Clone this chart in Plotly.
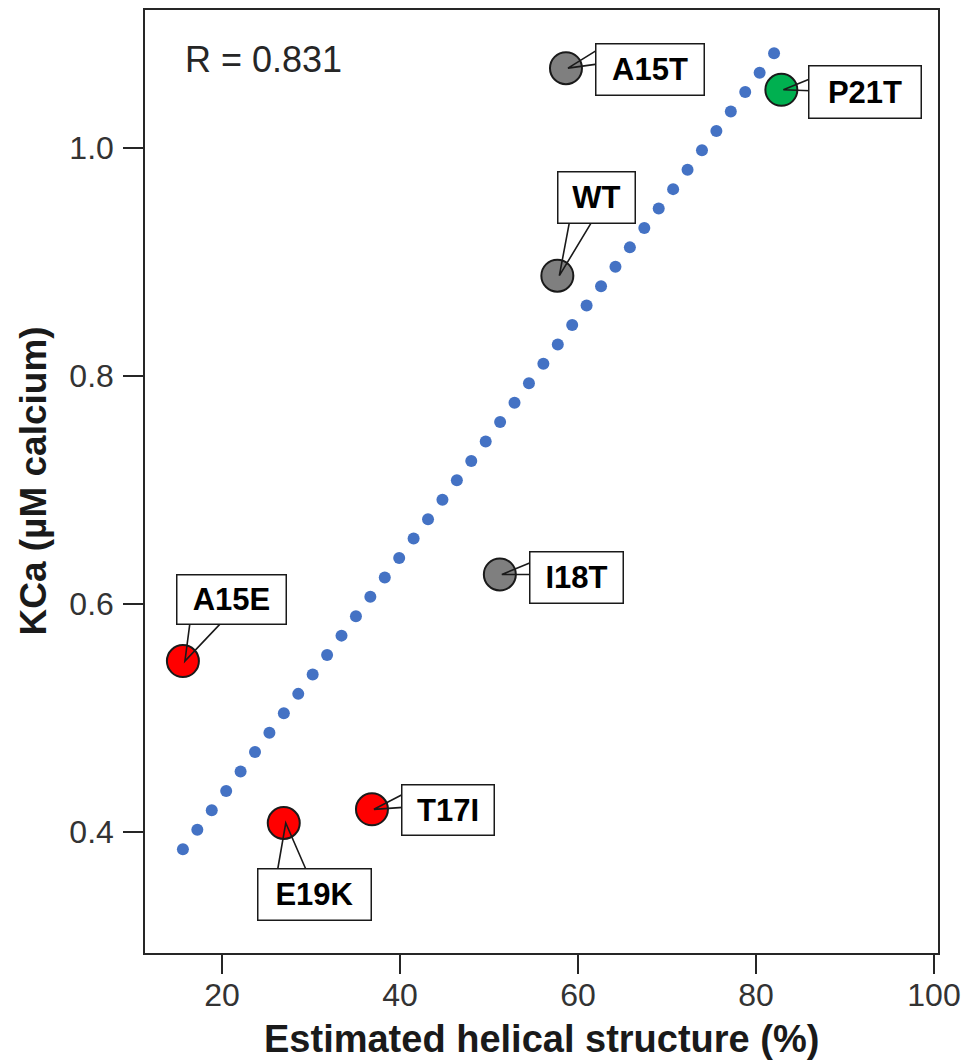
import numpy as np
import plotly.graph_objects as go

# ---- data ----
labels = ["A15T", "P21T", "WT", "I18T", "A15E", "T17I", "E19K"]
helix = [58.65, 82.85, 57.68, 51.22, 15.61, 36.85, 26.94]
kca = [1.070, 1.051, 0.888, 0.626, 0.550, 0.420, 0.408]
groups = ["neutral", "up", "neutral", "neutral", "down", "down", "down"]
r_text = "R = 0.831"
x_ticks = [20, 40, 60, 80, 100]
y_ticks = [0.4, 0.6, 0.8, 1.0]

# ---- styles ----
group_colors = {"neutral": "#7F7F7F", "up": "#00B050", "down": "#FF0000"}
# label box layout: (dx, dy) centre offset in px (y down), (w, h) size, wedge base pts (px, y up)
label_layout = {
    "A15T": dict(off=(84, 1), size=(110, 53), base=((31, 18), (31, 4))),
    "P21T": dict(off=(84, 2), size=(114, 54), base=((29, 11), (29, -1))),
    "WT":   dict(off=(39, -78), size=(79, 53), base=((12, 53), (34, 53))),
    "I18T": dict(off=(77, 3), size=(95, 53), base=((31, 12), (31, 0))),
    "A15E": dict(off=(49, -62), size=(111, 51), base=((7, 38), (38, 38))),
    "T17I": dict(off=(76, 1), size=(94, 52), base=((31, 15), (31, 2))),
    "E19K": dict(off=(31, 71), size=(115, 53), base=((-6, -46), (22, -46))),
}
FONT = "Arial, Liberation Sans, sans-serif"

fig = go.Figure()

# trend line (least-squares fit), drawn as round dots
slope, intercept = np.polyfit(helix, kca, 1)
xs = np.arange(min(helix), max(helix) - 0.3, 1.62)
fig.add_trace(go.Scatter(
    x=xs, y=slope * xs + intercept, mode="markers",
    marker=dict(size=12, color="#4472C4"), hoverinfo="skip", showlegend=False))

# data points
fig.add_trace(go.Scatter(
    x=helix, y=kca, mode="markers",
    marker=dict(size=32, color=[group_colors[g] for g in groups],
                line=dict(color="#1a1a1a", width=2)),
    text=labels, showlegend=False))

# callout wedges and label boxes
for lab, xv, yv in zip(labels, helix, kca):
    L = label_layout[lab]
    (b1x, b1y), (b2x, b2y) = L["base"]
    fig.add_shape(type="path", xref="x", yref="y",
                  xsizemode="pixel", ysizemode="pixel", xanchor=xv, yanchor=yv,
                  path=f"M {b1x},{b1y} L 2,0 L {b2x},{b2y}",
                  line=dict(color="#1a1a1a", width=1.6), layer="above")
    fig.add_annotation(x=xv, y=yv, xref="x", yref="y", text=f"<b>{lab}</b>",
                       showarrow=False, xanchor="center", yanchor="middle",
                       xshift=L["off"][0], yshift=-L["off"][1],
                       width=L["size"][0] - 3, height=L["size"][1] - 3,
                       bgcolor="white", bordercolor="#1a1a1a", borderwidth=1.5,
                       borderpad=0, font=dict(family=FONT, size=31, color="black"))

# R value
fig.add_annotation(x=15.58, y=1.078, xref="x", yref="y", text=r_text, showarrow=False,
                   xanchor="left", yanchor="middle",
                   font=dict(family=FONT, size=36, color="#262626"))

# axis titles
fig.add_annotation(x=0.5, y=0, xref="paper", yref="paper", yanchor="middle",
                   yshift=-86, showarrow=False,
                   text="<b>Estimated helical structure (%)</b>",
                   font=dict(family=FONT, size=38, color="#1a1a1a"))
fig.add_annotation(x=0, y=0.5, xref="paper", yref="paper", xanchor="center",
                   xshift=-112, showarrow=False, textangle=-90,
                   text="<b>KCa (µM calcium)</b>",
                   font=dict(family=FONT, size=37, color="#1a1a1a"))

axis_common = dict(showline=True, mirror=True, linecolor="#262626", linewidth=1.5,
                   ticks="outside", tickcolor="#262626", tickwidth=1.5,
                   showgrid=False, zeroline=False,
                   tickfont=dict(family=FONT, size=32, color="#333333"))
fig.update_xaxes(range=[11.35, 100.45], tickvals=x_ticks, ticklen=19,
                 ticklabelstandoff=-6, **axis_common)
fig.update_yaxes(range=[0.294, 1.121], tickvals=y_ticks, ticklen=20,
                 tickformat=".1f", ticklabelstandoff=3, **axis_common)

fig.update_layout(width=969, height=1061, margin=dict(l=145, r=24, t=8, b=108),
                  plot_bgcolor="white", paper_bgcolor="white")

fig.write_html("out.html")
